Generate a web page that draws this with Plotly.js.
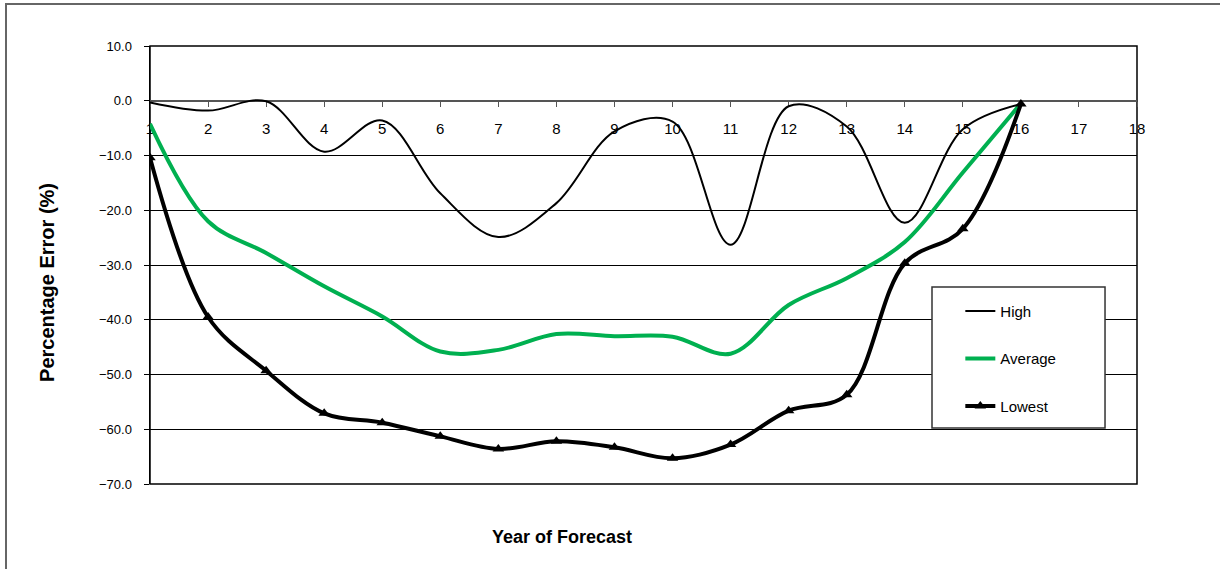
<!DOCTYPE html>
<html>
<head>
<meta charset="utf-8">
<script src="https://cdn.plot.ly/plotly-3.0.1.min.js"></script>
<style>
  html, body { margin: 0; padding: 0; background: #fff; }
  #wrap { position: relative; width: 1220px; height: 569px; overflow: hidden; }
  #chart { width: 1220px; height: 569px; }
  #frame { position: absolute; left: 5px; top: 3px; width: 1300px; height: 700px;
           border-left: 2px solid #666; border-top: 2px solid #666; pointer-events: none; }
</style>
</head>
<body>
<div id="wrap">
  <div id="chart"></div>
  <div id="frame"></div>
</div>
<script>
const years = [1, 2, 3, 4, 5, 6, 7, 8, 9, 10, 11, 12, 13, 14, 15, 16];
const tickYears = [1, 2, 3, 4, 5, 6, 7, 8, 9, 10, 11, 12, 13, 14, 15, 16, 17, 18];
const highErr = [-0.3, -1.8, -0.1, -9.3, -3.6, -16.9, -24.9, -18.7, -5.6, -3.8, -26.3, -1.0, -4.7, -22.3, -5.2, -0.6];
const averageErr = [-4.2, -22.0, -27.8, -33.9, -39.4, -45.8, -45.5, -42.6, -43.0, -43.1, -46.2, -37.3, -32.4, -25.8, -13.1, -0.5];
const lowestErr = [-10.4, -39.5, -49.3, -57.1, -58.8, -61.3, -63.6, -62.2, -63.3, -65.3, -62.8, -56.6, -53.7, -29.7, -23.4, -0.6];
const seriesNames = ['High', 'Average', 'Lowest'];

const font = 'Arial, "Liberation Sans", sans-serif';

const traces = [
  { x: years, y: highErr, name: seriesNames[0], legendgroup: 'g1', type: 'scatter', mode: 'lines',
    line: { color: '#000', width: 2, shape: 'spline', smoothing: 1 } },
  { x: years, y: averageErr, name: seriesNames[1], legendgroup: 'g2', type: 'scatter', mode: 'lines',
    line: { color: '#00B050', width: 4, shape: 'spline', smoothing: 1 } },
  { x: years, y: lowestErr, name: seriesNames[2], legendgroup: 'g3', type: 'scatter', mode: 'lines+markers',
    line: { color: '#000', width: 4, shape: 'spline', smoothing: 1 },
    marker: { symbol: 'triangle-up', size: 10, color: '#000' } }
];

const layout = {
  width: 1220, height: 569,
  margin: { l: 150, r: 83, t: 46, b: 85 },
  paper_bgcolor: '#fff', plot_bgcolor: '#fff',
  font: { family: font, color: '#000' },
  showlegend: true,
  legend: {
    x: 0.821, y: 0.432, xanchor: 'left', yanchor: 'top',
    bgcolor: 'rgba(0,0,0,0)', borderwidth: 0,
    font: { family: font, size: 15, color: '#000' },
    itemwidth: 30, tracegroupgap: 25, traceorder: 'grouped'
  },
  xaxis: {
    range: [1, 18], tickmode: 'array', tickvals: tickYears, ticktext: tickYears.map(String),
    anchor: 'free', position: 0.875, side: 'bottom',
    showline: true, linecolor: '#555', linewidth: 2,
    ticks: 'outside', ticklen: 5, tickcolor: '#555', tickwidth: 1,
    ticklabelstandoff: 9,
    tickfont: { family: font, size: 15, color: '#000' },
    showgrid: false, zeroline: false, layer: 'below traces'
  },
  yaxis: {
    range: [-70, 10], tickmode: 'linear', tick0: -70, dtick: 10, tickformat: '.1f',
    showline: true, linecolor: '#000', linewidth: 1.5,
    ticks: 'outside', ticklen: 5, tickcolor: '#000',
    ticklabelstandoff: 9,
    tickfont: { family: font, size: 13, color: '#000' },
    showgrid: true, gridcolor: '#000', gridwidth: 1, zeroline: false
  },
  shapes: [
    { type: 'rect', xref: 'paper', yref: 'paper', x0: 0, x1: 1, y0: 0, y1: 1,
      line: { color: '#000', width: 1.5 }, fillcolor: 'rgba(0,0,0,0)', layer: 'below' },
    { type: 'rect', xref: 'paper', yref: 'paper', x0: 0.7923, x1: 0.9676, y0: 0.1279, y1: 0.4498,
      line: { color: '#333', width: 1.5 }, fillcolor: '#fff', layer: 'above' }
  ],
  annotations: [
    { text: '<b>Year of Forecast</b>', xref: 'paper', yref: 'paper', x: 0.4174, y: -0.121,
      xanchor: 'center', yanchor: 'middle', showarrow: false,
      font: { family: font, size: 18, color: '#000' } },
    { text: '<b>Percentage Error (%)</b>', xref: 'paper', yref: 'paper', x: -0.1044, y: 0.4612,
      xanchor: 'center', yanchor: 'middle', showarrow: false, textangle: -90,
      font: { family: font, size: 20, color: '#000' } }
  ]
};

Plotly.newPlot('chart', traces, layout, { displayModeBar: false, staticPlot: true });
</script>
</body>
</html>
